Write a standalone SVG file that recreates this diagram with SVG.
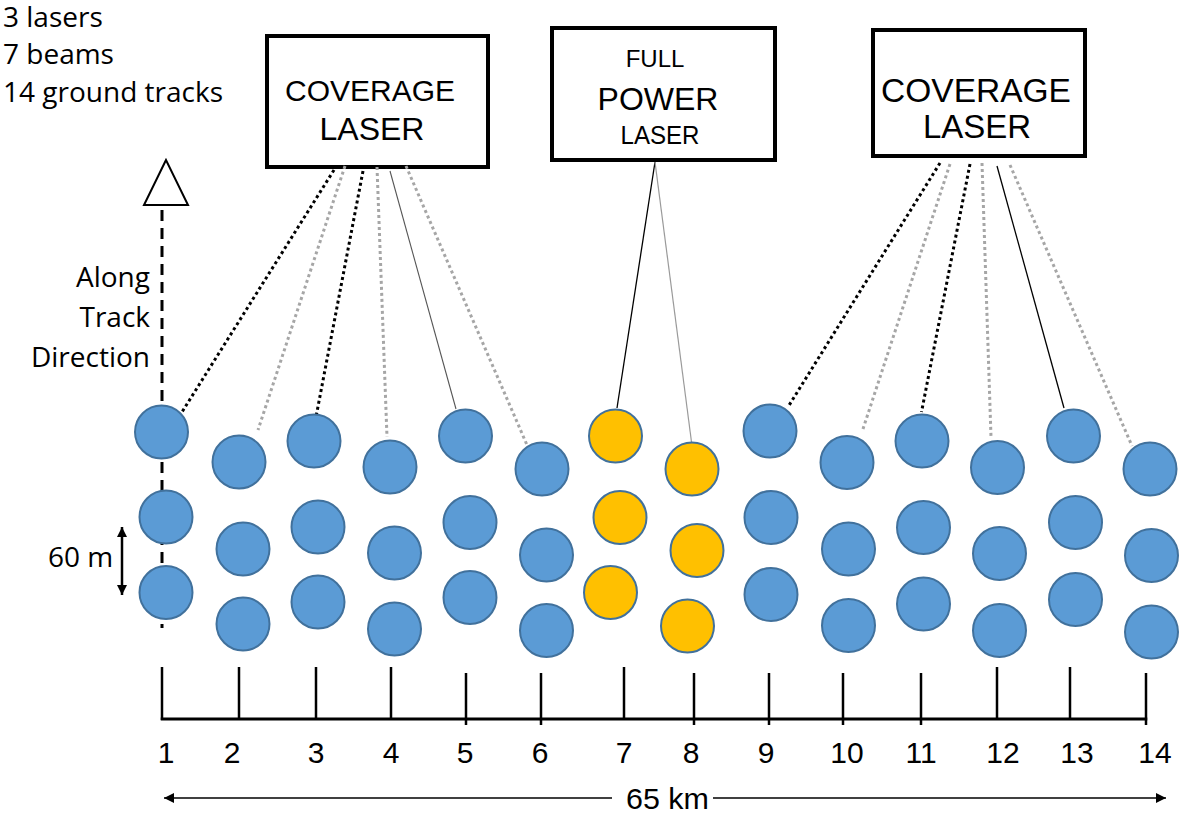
<svg xmlns="http://www.w3.org/2000/svg" width="1181" height="815" viewBox="0 0 1181 815">
  <style>
    .lbl { font-family: "Open Sans", "Noto Sans", sans-serif; font-size: 28px; fill: #000; }
    .box { fill: #fff; stroke: #000; stroke-width: 4; }
    .boxt { font-family: "Liberation Sans", Arial, sans-serif; fill: #000; text-anchor: middle; }
    .num { font-family: "Liberation Sans", Arial, sans-serif; font-size: 30px; fill: #000; text-anchor: middle; }
    .blue { fill: #5B9BD5; stroke: #41719C; stroke-width: 2; }
    .yel { fill: #FFC000; stroke: #41719C; stroke-width: 2; }
    .dotb { stroke: #000; stroke-width: 3; stroke-dasharray: 3 3; fill: none; }
    .dotg { stroke: #A6A6A6; stroke-width: 3; stroke-dasharray: 3 3; fill: none; }
    .solb { stroke: #000; stroke-width: 1.3; fill: none; }
    .solg { stroke: #9A9A9A; stroke-width: 1.2; fill: none; }
    .tick { stroke: #000; stroke-width: 2.5; }
  </style>
  <defs>
    <marker id="ah" markerUnits="userSpaceOnUse" markerWidth="12" markerHeight="12" refX="10" refY="5" orient="auto-start-reverse">
      <path d="M0,0 L10,5 L0,10 z" fill="#000"/>
    </marker>
  </defs>

  <g id="summary">
    <text class="lbl" x="3" y="27">3 lasers</text>
    <text class="lbl" x="3" y="64">7 beams</text>
    <text class="lbl" x="3" y="102">14 ground tracks</text>
  </g>

  <g id="along-track">
    <line x1="162" y1="210" x2="162" y2="628" stroke="#000" stroke-width="3" stroke-dasharray="11 7"/>
    <polygon points="166,160 144,205 188,205" fill="#fff" stroke="#000" stroke-width="2"/>
    <text class="lbl" x="150" y="287" text-anchor="end">Along</text>
    <text class="lbl" x="150" y="327" text-anchor="end">Track</text>
    <text class="lbl" x="150" y="367" text-anchor="end">Direction</text>
  </g>

  <g id="spacing-60m">
    <line x1="122" y1="527" x2="122" y2="595" stroke="#000" stroke-width="2.5" marker-start="url(#ah)" marker-end="url(#ah)"/>
    <text class="lbl" x="48" y="567">60 m</text>
  </g>

  <g id="box-coverage-left">
    <rect class="box" x="267" y="36" width="221" height="131"/>
    <text class="boxt" x="370" y="101" font-size="30">COVERAGE</text>
    <text class="boxt" x="372" y="140" font-size="32">LASER</text>
  </g>

  <g id="box-full-power">
    <rect class="box" x="552" y="28" width="223" height="132"/>
    <text class="boxt" x="655" y="67" font-size="24">FULL</text>
    <text class="boxt" x="658" y="110" font-size="32">POWER</text>
    <text class="boxt" x="660" y="144" font-size="26" textLength="79" lengthAdjust="spacingAndGlyphs">LASER</text>
  </g>

  <g id="box-coverage-right">
    <rect class="box" x="873" y="30" width="212" height="126"/>
    <text class="boxt" x="976" y="102" font-size="33.5">COVERAGE</text>
    <text class="boxt" x="977" y="138" font-size="33">LASER</text>
  </g>

  <g id="connectors">
    <line class="dotb" x1="334" y1="170" x2="182" y2="412"/>
    <line class="dotg" x1="345" y1="166" x2="258" y2="430"/>
    <line class="dotb" x1="363" y1="171" x2="316" y2="417"/>
    <line class="dotg" x1="377" y1="167" x2="387" y2="437"/>
    <line x1="390" y1="171" x2="456" y2="409" stroke="#555" stroke-width="1.1"/>
    <line class="dotg" x1="406" y1="166" x2="527" y2="445"/>

    <line class="solb" x1="655" y1="162" x2="617" y2="408"/>
    <line class="solg" x1="655" y1="162" x2="691.5" y2="442"/>

    <line class="dotb" x1="940" y1="163" x2="788" y2="407"/>
    <line class="dotg" x1="950" y1="164" x2="862" y2="432"/>
    <line class="dotb" x1="970" y1="164" x2="921.5" y2="412"/>
    <line class="dotg" x1="982" y1="163" x2="991" y2="437"/>
    <line class="solb" x1="997" y1="166" x2="1064" y2="408"/>
    <line class="dotg" x1="1010" y1="165" x2="1132" y2="446"/>
  </g>

  <g id="track-1"><circle class="blue" cx="161.5" cy="432" r="26.5"/><circle class="blue" cx="166" cy="517" r="26.5"/><circle class="blue" cx="166" cy="592.5" r="26.5"/></g>
  <g id="track-2"><circle class="blue" cx="239" cy="462" r="26.5"/><circle class="blue" cx="243" cy="549" r="26.5"/><circle class="blue" cx="243" cy="624" r="26.5"/></g>
  <g id="track-3"><circle class="blue" cx="314" cy="441" r="26.5"/><circle class="blue" cx="318" cy="527" r="26.5"/><circle class="blue" cx="318" cy="602" r="26.5"/></g>
  <g id="track-4"><circle class="blue" cx="390" cy="467" r="26.5"/><circle class="blue" cx="394.5" cy="553" r="26.5"/><circle class="blue" cx="394.5" cy="629" r="26.5"/></g>
  <g id="track-5"><circle class="blue" cx="465.5" cy="436" r="26.5"/><circle class="blue" cx="470" cy="522.5" r="26.5"/><circle class="blue" cx="470" cy="597.5" r="26.5"/></g>
  <g id="track-6"><circle class="blue" cx="542" cy="469" r="26.5"/><circle class="blue" cx="546.5" cy="555" r="26.5"/><circle class="blue" cx="546.5" cy="630.5" r="26.5"/></g>
  <g id="track-7"><circle class="yel" cx="615.5" cy="436" r="26.5"/><circle class="yel" cx="620" cy="517.5" r="26.5"/><circle class="yel" cx="610.5" cy="592.5" r="26.5"/></g>
  <g id="track-8"><circle class="yel" cx="692" cy="469" r="26.5"/><circle class="yel" cx="697" cy="550.5" r="26.5"/><circle class="yel" cx="687.5" cy="626" r="26.5"/></g>
  <g id="track-9"><circle class="blue" cx="770" cy="431" r="26.5"/><circle class="blue" cx="771" cy="517.5" r="26.5"/><circle class="blue" cx="771" cy="594.5" r="26.5"/></g>
  <g id="track-10"><circle class="blue" cx="847" cy="462.5" r="26.5"/><circle class="blue" cx="848.5" cy="549" r="26.5"/><circle class="blue" cx="848.5" cy="625.5" r="26.5"/></g>
  <g id="track-11"><circle class="blue" cx="922" cy="441" r="26.5"/><circle class="blue" cx="923.5" cy="527.5" r="26.5"/><circle class="blue" cx="923.5" cy="604" r="26.5"/></g>
  <g id="track-12"><circle class="blue" cx="997.5" cy="467.5" r="26.5"/><circle class="blue" cx="999.5" cy="553.5" r="26.5"/><circle class="blue" cx="999.5" cy="630.5" r="26.5"/></g>
  <g id="track-13"><circle class="blue" cx="1073.5" cy="436" r="26.5"/><circle class="blue" cx="1075.5" cy="522.5" r="26.5"/><circle class="blue" cx="1075.5" cy="599.5" r="26.5"/></g>
  <g id="track-14"><circle class="blue" cx="1150" cy="469" r="26.5"/><circle class="blue" cx="1151.5" cy="555.5" r="26.5"/><circle class="blue" cx="1151.5" cy="632" r="26.5"/></g>

  <g id="axis">
    <line x1="160.75" y1="719" x2="1147.25" y2="719" stroke="#000" stroke-width="3"/>
    <line class="tick" x1="162" y1="667" x2="162" y2="720"/>
    <line class="tick" x1="239" y1="667" x2="239" y2="720"/>
    <line class="tick" x1="316" y1="667" x2="316" y2="720"/>
    <line class="tick" x1="391" y1="667" x2="391" y2="720"/>
    <line class="tick" x1="466" y1="673" x2="466" y2="725"/>
    <line class="tick" x1="541" y1="673" x2="541" y2="725"/>
    <line class="tick" x1="624" y1="667" x2="624" y2="720"/>
    <line class="tick" x1="694" y1="673" x2="694" y2="725"/>
    <line class="tick" x1="769" y1="673" x2="769" y2="725"/>
    <line class="tick" x1="843" y1="673" x2="843" y2="725"/>
    <line class="tick" x1="921" y1="673" x2="921" y2="725"/>
    <line class="tick" x1="997" y1="667" x2="997" y2="720"/>
    <line class="tick" x1="1070" y1="667" x2="1070" y2="720"/>
    <line class="tick" x1="1146" y1="673" x2="1146" y2="725"/>
    <text class="num" x="166" y="763">1</text>
    <text class="num" x="232" y="763">2</text>
    <text class="num" x="316" y="763">3</text>
    <text class="num" x="391" y="763">4</text>
    <text class="num" x="465" y="763">5</text>
    <text class="num" x="540" y="763">6</text>
    <text class="num" x="624" y="763">7</text>
    <text class="num" x="691" y="763">8</text>
    <text class="num" x="766" y="763">9</text>
    <text class="num" x="847" y="763">10</text>
    <text class="num" x="921" y="763">11</text>
    <text class="num" x="1003" y="763">12</text>
    <text class="num" x="1077" y="763">13</text>
    <text class="num" x="1155" y="763">14</text>
  </g>

  <g id="width-65km">
    <line x1="164" y1="798" x2="612" y2="798" stroke="#000" stroke-width="1.5" marker-start="url(#ah)"/>
    <line x1="713" y1="798" x2="1166" y2="798" stroke="#000" stroke-width="1.5" marker-end="url(#ah)"/>
    <text class="num" x="667.5" y="809" font-size="31" textLength="83" lengthAdjust="spacingAndGlyphs">65 km</text>
  </g>
</svg>
